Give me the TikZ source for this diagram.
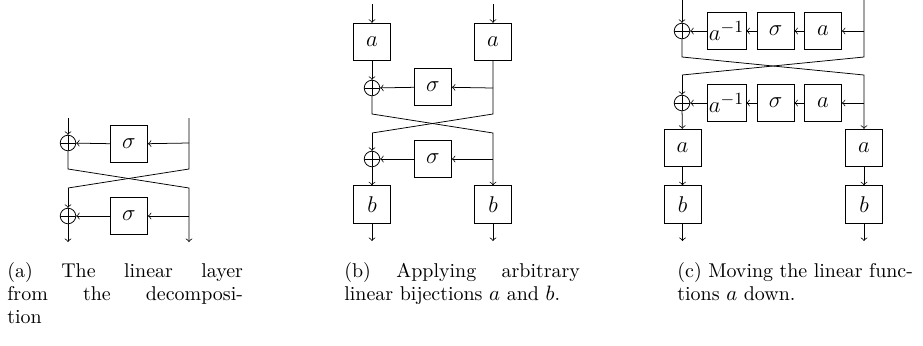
\documentclass[tikz,border=0pt]{standalone}
\usetikzlibrary{calc}

\tikzset{
  px/.style={x=0.5263pt,y=-0.5263pt},
  fbox/.style={draw,rectangle,minimum width=19.5pt,minimum height=19.8pt,inner sep=1pt,
    font=\fontsize{12.5}{15}\selectfont},
  xorop/.style={draw,circle,minimum size=8.2pt,inner sep=0pt,
    path picture={
      \draw (path picture bounding box.north) -- (path picture bounding box.south);
      \draw (path picture bounding box.west) -- (path picture bounding box.east);
    }},
  wire/.style={line width=0.4pt},
  capline/.style={anchor=base west,inner sep=0pt,font=\fontsize{10.5}{13}\selectfont},
}
\newcommand{\fullline}[1]{\makebox[124pt][s]{#1}}

\begin{document}
\begin{tikzpicture}[px]
\useasboundingbox (0,0) rectangle (923,345);

% ---------------- (a) linear layer ----------------
\coordinate (a-tl) at (68,118);
\coordinate (a-tr) at (189,118);
\node[xorop] (a-x1) at (68,143) {};
\node[fbox]  (a-s1) at (129,144) {$\sigma$};
\coordinate (a-b1) at (189,143);
\coordinate (a-l1) at (68,169);
\coordinate (a-r1) at (189,169);
\coordinate (a-l2) at (68,188);
\coordinate (a-r2) at (189,188);
\node[xorop] (a-x2) at (68,216) {};
\node[fbox]  (a-s2) at (129,216) {$\sigma$};
\coordinate (a-b2) at (189,216);
\coordinate (a-bl) at (68,242);
\coordinate (a-br) at (189,242);

\draw[wire,->] (a-tl) -- (a-x1);
\draw[wire,->] (a-x1) -- (a-l1) -- (a-r2) -- (a-br);
\draw[wire] (a-tr) -- (a-r1) -- (a-l2);
\draw[wire,->] (a-l2) -- (a-x2);
\draw[wire,->] (a-x2) -- (a-bl);
\draw[wire,->] (a-b1) -- (a-s1);
\draw[wire,->] (a-s1) -- (a-x1);
\draw[wire,->] (a-b2) -- (a-s2);
\draw[wire,->] (a-s2) -- (a-x2);

% ---------------- (b) with a and b ----------------
\coordinate (b-tl) at (372,4);
\coordinate (b-tr) at (493,4);
\node[fbox] (b-a1) at (372,42) {$a$};
\node[fbox] (b-a2) at (493,42) {$a$};
\node[xorop] (b-x1) at (372,88) {};
\node[fbox]  (b-s1) at (433,87) {$\sigma$};
\coordinate (b-b1) at (493,88);
\coordinate (b-l1) at (372,114);
\coordinate (b-r1) at (493,114);
\coordinate (b-l2) at (372,133);
\coordinate (b-r2) at (493,133);
\node[xorop] (b-x2) at (372,159) {};
\node[fbox]  (b-s2) at (433,159) {$\sigma$};
\coordinate (b-b2) at (493,159);
\node[fbox] (b-bb1) at (372,204.5) {$b$};
\node[fbox] (b-bb2) at (493,204.5) {$b$};
\coordinate (b-bl) at (372,241);
\coordinate (b-br) at (493,241);

\draw[wire,->] (b-tl) -- (b-a1);
\draw[wire,->] (b-tr) -- (b-a2);
\draw[wire,->] (b-a1) -- (b-x1);
\draw[wire,->] (b-x1) -- (b-l1) -- (b-r2) -- (b-bb2);
\draw[wire] (b-a2) -- (b-r1) -- (b-l2);
\draw[wire,->] (b-l2) -- (b-x2);
\draw[wire,->] (b-x2) -- (b-bb1);
\draw[wire,->] (b-b1) -- (b-s1);
\draw[wire,->] (b-s1) -- (b-x1);
\draw[wire,->] (b-b2) -- (b-s2);
\draw[wire,->] (b-s2) -- (b-x2);
\draw[wire,->] (b-bb1) -- (b-bl);
\draw[wire,->] (b-bb2) -- (b-br);

% ---------------- (c) moving a down ----------------
\coordinate (c-tl) at (682,0);
\coordinate (c-tr) at (864,0);
\node[xorop] (c-x1) at (682,31) {};
\node[fbox] (c-i1) at (726.5,31) {$a^{-1}$};
\node[fbox] (c-s1) at (775.5,31) {$\sigma$};
\node[fbox] (c-a1) at (823,31) {$a$};
\coordinate (c-b1) at (864,31);
\coordinate (c-l1) at (682,57);
\coordinate (c-r1) at (864,57);
\coordinate (c-l2) at (682,75);
\coordinate (c-r2) at (864,75);
\node[xorop] (c-x2) at (682,103) {};
\node[fbox] (c-i2) at (726.5,103) {$a^{-1}$};
\node[fbox] (c-s2) at (775.5,103) {$\sigma$};
\node[fbox] (c-a2) at (823,103) {$a$};
\coordinate (c-b2) at (864,103);
\node[fbox] (c-al) at (682.5,148) {$a$};
\node[fbox] (c-ar) at (864,148) {$a$};
\node[fbox] (c-bl) at (682.5,204.5) {$b$};
\node[fbox] (c-br) at (864,204.5) {$b$};
\coordinate (c-el) at (682.5,241);
\coordinate (c-er) at (864,241);

\draw[wire,->] (c-tl) -- (c-x1);
\draw[wire,->] (c-x1) -- (c-l1) -- (c-r2) -- (c-ar);
\draw[wire] (c-tr) -- (c-r1) -- (c-l2);
\draw[wire,->] (c-l2) -- (c-x2);
\draw[wire,->] (c-x2) -- (c-al);
\foreach \r in {1,2}{
  \draw[wire,->] (c-b\r) -- (c-a\r);
  \draw[wire,->] (c-a\r) -- (c-s\r);
  \draw[wire,->] (c-s\r) -- (c-i\r);
  \draw[wire,->] (c-i\r) -- (c-x\r);
}
\draw[wire,->] (c-al) -- (c-bl);
\draw[wire,->] (c-ar) -- (c-br);
\draw[wire,->] (c-bl) -- (c-el);
\draw[wire,->] (c-br) -- (c-er);

% ---------------- captions ----------------
\node[capline] (cap-a1) at (7,277) {\fullline{(a) The linear layer}};
\node[capline] (cap-a2) at (7,300) {\fullline{from the decomposi-}};
\node[capline] (cap-a3) at (7,323) {tion};

\node[capline] (cap-b1) at (344,277) {\fullline{(b) Applying arbitrary}};
\node[capline] (cap-b2) at (344,300) {linear bijections $a$ and $b$.};

\node[capline] (cap-c1) at (677,277) {\fullline{(c) Moving the linear func-}};
\node[capline] (cap-c2) at (677,300) {tions $a$ down.};
\end{tikzpicture}
\end{document}
